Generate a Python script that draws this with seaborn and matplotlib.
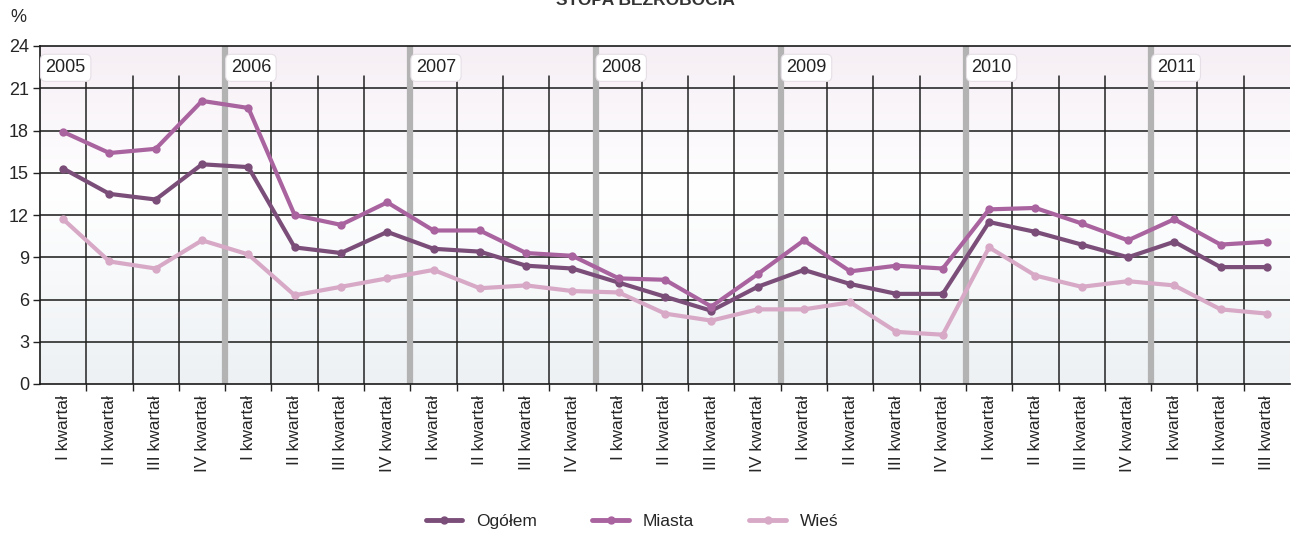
import numpy as np
import pandas as pd
import matplotlib
matplotlib.use("Agg")
import matplotlib.pyplot as plt
from matplotlib.lines import Line2D
import seaborn as sns

quarters = ["I kwartał", "II kwartał", "III kwartał", "IV kwartał"] * 6 + ["I kwartał", "II kwartał", "III kwartał"]
years = ["2005", "2006", "2007", "2008", "2009", "2010", "2011"]
y_ticks = [0, 3, 6, 9, 12, 15, 18, 21, 24]

ogolem = [15.3, 13.5, 13.1, 15.6, 15.4, 9.7, 9.3, 10.8, 9.6, 9.4, 8.4, 8.2, 7.2, 6.2, 5.2, 6.9,
          8.1, 7.1, 6.4, 6.4, 11.5, 10.8, 9.9, 9.0, 10.1, 8.3, 8.3]
miasta = [17.9, 16.4, 16.7, 20.1, 19.6, 12.0, 11.3, 12.9, 10.9, 10.9, 9.3, 9.1, 7.5, 7.4, 5.5, 7.8,
          10.2, 8.0, 8.4, 8.2, 12.4, 12.5, 11.4, 10.2, 11.7, 9.9, 10.1]
wies = [11.7, 8.7, 8.2, 10.2, 9.2, 6.3, 6.9, 7.5, 8.1, 6.8, 7.0, 6.6, 6.5, 5.0, 4.5, 5.3,
        5.3, 5.8, 3.7, 3.5, 9.7, 7.7, 6.9, 7.3, 7.0, 5.3, 5.0]

series_names = ["Ogółem", "Miasta", "Wieś"]
colors = ["#7b4e79", "#a9639f", "#d7a9c6"]

n = len(quarters)
idx = np.arange(n)
df = pd.concat([
    pd.DataFrame({"idx": idx, "val": v, "seria": name})
    for name, v in zip(series_names, [ogolem, miasta, wies])
])

sns.set_style("white")
plt.rcParams["font.family"] = ["Liberation Sans", "DejaVu Sans"]

fig = plt.figure(figsize=(12.93, 5.33), dpi=100)
ax = fig.add_axes([40 / 1293, 1 - 384 / 533, 1250 / 1293, 338 / 533])

# background gradient
stops_v = np.array([0, 14, 18, 24])
stops_c = np.array([[237, 241, 244], [255, 255, 255], [251, 248, 251], [246, 239, 245]]) / 255
vv = np.linspace(0, 24, 300)
grad = np.stack([np.interp(vv, stops_v, stops_c[:, k]) for k in range(3)], axis=-1)[:, None, :]
ax.imshow(grad, extent=[-0.5, n - 0.5, 0, 24], origin="lower", aspect="auto", zorder=0)

# horizontal grid
for yv in y_ticks[1:-1]:
    ax.axhline(yv, color="#3a3a3a", lw=1.3, zorder=1)

# vertical grid
for b in np.arange(0.5, n - 0.5, 1.0):
    if int(b + 0.5) % 4 == 0:
        ax.axvline(b, color="#b3b3b3", lw=4.5, zorder=1)
    else:
        ax.plot([b, b], [0, 21.9], color="#222222", lw=1.1, zorder=1)

# year labels
for k, yr in enumerate(years):
    xb = -0.5 + 4 * k
    ax.text(xb + 0.12, 22.45, yr, ha="left", va="center", fontsize=13, color="#222222",
            bbox=dict(boxstyle="round,pad=0.28,rounding_size=0.3", fc="white", ec="#e6e0e6", lw=0.8),
            zorder=3)

sns.lineplot(data=df, x="idx", y="val", hue="seria", palette=dict(zip(series_names, colors)),
             marker="o", markersize=6, markeredgewidth=0, lw=3, sort=False, ax=ax,
             legend=False, zorder=4)

ax.set_xlim(-0.5, n - 0.5)
ax.set_ylim(0, 24)
ax.set_yticks(y_ticks)
ax.set_yticklabels([str(t) for t in y_ticks], fontsize=13)
ax.set_xticks(idx)
ax.set_xticklabels(quarters, rotation=90, fontsize=12.5)
ax.set_xticks(np.arange(0.5, n - 0.5, 1.0), minor=True)
ax.tick_params(axis="x", which="major", length=0, pad=8)
ax.tick_params(axis="x", which="minor", length=5, width=1, color="#222222", direction="out", bottom=True)
ax.tick_params(axis="y", length=5, width=1, color="#222222", direction="out", left=True, pad=3)
ax.set_xlabel("")
ax.set_ylabel("")
for s in ["left", "bottom", "top"]:
    ax.spines[s].set_visible(True)
    ax.spines[s].set_color("#1a1a1a")
    ax.spines[s].set_linewidth(1.2)
ax.spines["right"].set_visible(False)

fig.text(18 / 1293, 1 - 17 / 533, "%", ha="center", va="center", fontsize=13)
fig.text(645 / 1293, 1 - 5 / 533, "STOPA BEZROBOCIA", ha="center", va="baseline",
         fontsize=12.5, fontweight="bold", color="#333333")

handles = [Line2D([0], [0], color=c, lw=3.5, marker="o", markersize=5) for c in colors]
fig.legend(handles, series_names, loc="center", bbox_to_anchor=(632 / 1293, 1 - 521 / 533),
           ncol=3, frameon=False, fontsize=12.5, handlelength=2.1, columnspacing=3.2,
           handletextpad=0.8)

fig.savefig("out.png", dpi=100)
